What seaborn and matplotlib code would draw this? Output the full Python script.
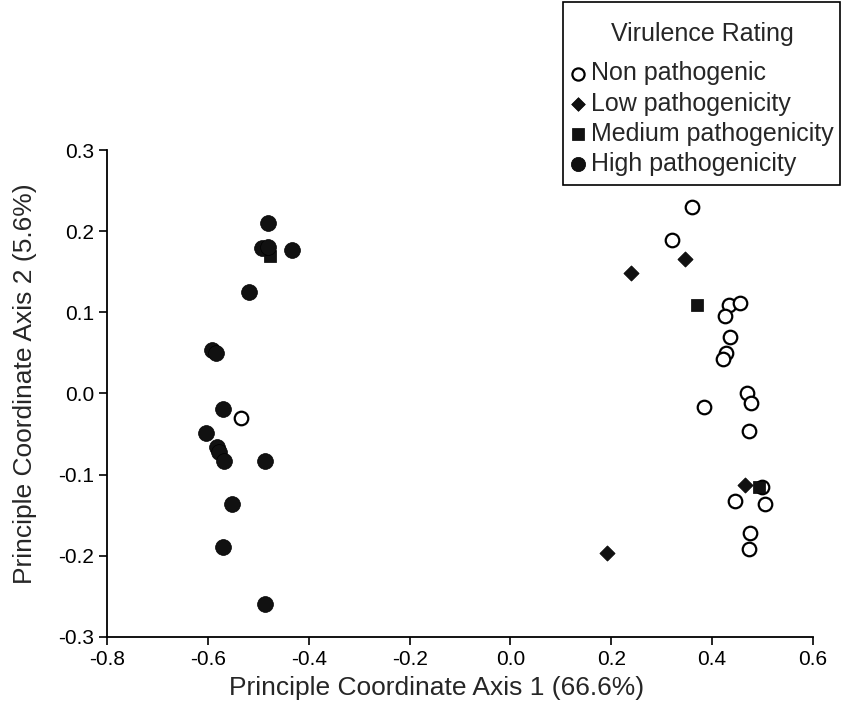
import pandas as pd
import seaborn as sns
import matplotlib
matplotlib.use("Agg")
import matplotlib.pyplot as plt
from matplotlib.patches import Rectangle

# values (axis 1, axis 2)
categories = ["Non pathogenic", "Low pathogenicity", "Medium pathogenicity", "High pathogenicity"]

non_x = [-0.535, 0.360, 0.320, 0.434, 0.455, 0.426, 0.435, 0.428, 0.422, 0.469,
         0.478, 0.385, 0.474, 0.500, 0.446, 0.506, 0.476, 0.474]
non_y = [-0.030, 0.230, 0.189, 0.109, 0.111, 0.095, 0.070, 0.050, 0.043, 0.000,
         -0.012, -0.017, -0.046, -0.115, -0.133, -0.136, -0.172, -0.192]

low_x = [0.347, 0.240, 0.465, 0.191]
low_y = [0.166, 0.149, -0.113, -0.196]

med_x = [-0.477, 0.370, 0.494]
med_y = [0.169, 0.109, -0.115]

high_x = [-0.481, -0.494, -0.482, -0.434, -0.520, -0.592, -0.585, -0.570, -0.604,
          -0.583, -0.578, -0.568, -0.488, -0.553, -0.570, -0.488]
high_y = [0.210, 0.179, 0.181, 0.177, 0.125, 0.053, 0.050, -0.019, -0.049,
          -0.066, -0.072, -0.083, -0.083, -0.136, -0.189, -0.259]

xticks = [-0.8, -0.6, -0.4, -0.2, 0.0, 0.2, 0.4, 0.6]
yticks = [-0.3, -0.2, -0.1, 0.0, 0.1, 0.2, 0.3]

frames = []
for cat, xs, ys in zip(categories, [non_x, low_x, med_x, high_x], [non_y, low_y, med_y, high_y]):
    frames.append(pd.DataFrame({"pc1": xs, "pc2": ys, "rating": cat}))
data = pd.concat(frames, ignore_index=True)

sns.set_style("ticks")
plt.rcParams["font.family"] = ["Liberation Sans", "DejaVu Sans"]

fig = plt.figure(figsize=(8.43, 7.25), dpi=100)
ax = fig.add_axes([0.1275, 0.1214, 0.8365, 0.6717])

styles = {
    "Non pathogenic": dict(marker="o", color="white", s=95, linewidth=1.6),
    "Low pathogenicity": dict(marker="D", color="#111111", s=60, linewidth=0.5),
    "Medium pathogenicity": dict(marker="s", color="#111111", s=80, linewidth=0.5),
    "High pathogenicity": dict(marker="o", color="#111111", s=130, linewidth=0.5),
}

for cat in categories:
    sub = data[data["rating"] == cat]
    sns.scatterplot(data=sub, x="pc1", y="pc2", edgecolor="black", label=cat,
                    ax=ax, zorder=3, legend=False, **styles[cat])

ax.set_xlim(-0.8, 0.6)
ax.set_ylim(-0.3, 0.3)
ax.set_xticks(xticks)
ax.set_yticks(yticks)
ax.set_xticklabels([f"{t:.1f}" for t in xticks])
ax.set_yticklabels([f"{t:.1f}" for t in yticks])
ax.tick_params(direction="out", length=6, width=1.2, labelsize=15, colors="black")
for side in ["left", "bottom"]:
    ax.spines[side].set_linewidth(1.3)
    ax.spines[side].set_color("black")
sns.despine(ax=ax)

ax.set_xlabel("Principle Coordinate Axis 1 (66.6%)", fontsize=19)
ax.set_ylabel("Principle Coordinate Axis 2 (5.6%)", fontsize=19)
ax.xaxis.set_label_coords(0.466, -0.08)
ax.yaxis.set_label_coords(-0.1, 0.52)

handles, labels = ax.get_legend_handles_labels()
if ax.get_legend() is not None:
    ax.get_legend().remove()
leg = fig.legend(handles, labels, title="Virulence Rating", loc="upper left",
                 bbox_to_anchor=(572 / 843, 1 - 22 / 725), borderaxespad=0,
                 fontsize=18, title_fontsize=18, frameon=False, markerscale=0.9,
                 handlelength=0.5, handletextpad=0.25, labelspacing=0.25,
                 borderpad=0)
leg._legend_box.sep = 11  # a bit more room under the title

# legend box drawn separately so its padding can differ per side
fig.patches.append(Rectangle((563 / 843, 1 - 185 / 725), 277 / 843, 183 / 725,
                             transform=fig.transFigure, fill=False,
                             edgecolor="black", linewidth=1.2))

fig.savefig("out.png", dpi=100)
